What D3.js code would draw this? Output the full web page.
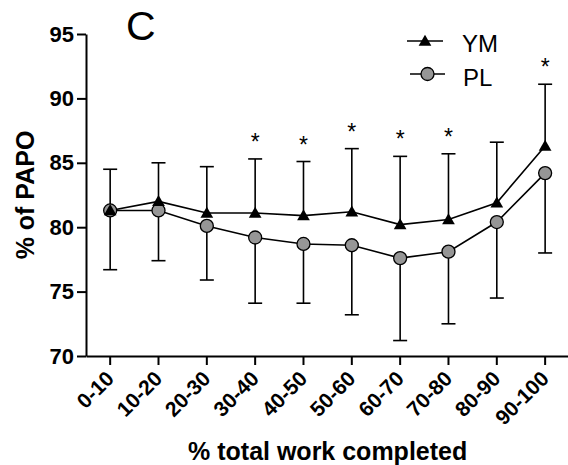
<!DOCTYPE html>
<html>
<head>
<meta charset="utf-8">
<script src="https://cdn.jsdelivr.net/npm/d3@7"></script>
<style>
  html, body { margin: 0; padding: 0; background: #fff; }
  svg { display: block; font-family: "Liberation Sans", Arial, Helvetica, sans-serif; }
</style>
</head>
<body>
<svg id="chart" width="568" height="465"></svg>
<script>
// Work intervals (% of total work completed)
const categories = ["0-10", "10-20", "20-30", "30-40", "40-50", "50-60", "60-70", "70-80", "80-90", "90-100"];
// Mean power output, % of PAPO
const ymMean = [81.3, 82.0, 81.1, 81.1, 80.9, 81.2, 80.2, 80.6, 81.9, 86.3];
const ymSD   = [3.2, 3.0, 3.6, 4.2, 4.2, 4.9, 5.3, 5.1, 4.7, 4.8];
const plMean = [81.3, 81.3, 80.1, 79.2, 78.7, 78.6, 77.6, 78.1, 80.4, 84.2];
const plSD   = [4.6, 3.9, 4.2, 5.1, 4.6, 5.4, 6.4, 5.6, 5.9, 6.2];
// Significant YM vs PL difference
const significant = [false, false, false, true, true, true, true, true, false, true];
const yTicks = [70, 75, 80, 85, 90, 95];

const svg = d3.select("#chart");
const plotLeft = 86, plotRight = 569.3, plotTop = 34, plotBottom = 356;

const x = d3.scaleBand().domain(categories).range([plotLeft, plotRight]).paddingInner(0).paddingOuter(0);
const cx = c => x(c) + x.bandwidth() / 2;
const y = d3.scaleLinear().domain([70, 95]).range([plotBottom, plotTop]);

// Y axis
const yAxis = svg.append("g")
  .attr("transform", `translate(${plotLeft},0)`)
  .call(d3.axisLeft(y).tickValues(yTicks).tickSize(9).tickPadding(3).tickSizeOuter(0));
yAxis.select(".domain").attr("stroke", "#000").attr("stroke-width", 2);
yAxis.selectAll(".tick line").attr("stroke", "#000").attr("stroke-width", 2);
yAxis.selectAll(".tick text")
  .attr("font-size", 22).attr("font-weight", "bold").attr("fill", "#000")
  .attr("font-family", "'Liberation Sans', Arial, sans-serif");

// X axis
const xAxis = svg.append("g")
  .attr("transform", `translate(0,${plotBottom})`)
  .call(d3.axisBottom(x).tickSize(9).tickSizeOuter(0).tickFormat(() => ""));
xAxis.select(".domain").attr("stroke", "#000").attr("stroke-width", 2);
xAxis.selectAll(".tick line").attr("stroke", "#000").attr("stroke-width", 2);

// Rotated category labels
svg.append("g").selectAll("text")
  .data(categories)
  .join("text")
  .attr("transform", d => `translate(${cx(d) + 5},${plotBottom + 24}) rotate(-45)`)
  .attr("text-anchor", "end")
  .attr("font-size", 21)
  .attr("font-weight", "bold")
  .attr("fill", "#000")
  .text(d => d);

// Axis titles
svg.append("text")
  .attr("x", (plotLeft + plotRight) / 2)
  .attr("y", 460)
  .attr("text-anchor", "middle")
  .attr("font-size", 25)
  .attr("font-weight", "bold")
  .text("% total work completed");

svg.append("text")
  .attr("transform", `translate(34,${(plotTop + plotBottom) / 2}) rotate(-90)`)
  .attr("text-anchor", "middle")
  .attr("font-size", 25)
  .attr("font-weight", "bold")
  .text("% of PAPO");

// Panel letter
svg.append("text")
  .attr("x", 126)
  .attr("y", 40)
  .attr("font-size", 41)
  .text("C");

const capHalf = 7;

// PL error bars (downward)
const plErr = svg.append("g").attr("stroke", "#000").attr("stroke-width", 1.6).attr("fill", "none");
categories.forEach((c, i) => {
  const xv = cx(c), y0 = y(plMean[i]), y1 = y(plMean[i] - plSD[i]);
  plErr.append("line").attr("x1", xv).attr("x2", xv).attr("y1", y0).attr("y2", y1);
  plErr.append("line").attr("x1", xv - capHalf).attr("x2", xv + capHalf).attr("y1", y1).attr("y2", y1);
});

// YM error bars (upward)
const ymErr = svg.append("g").attr("stroke", "#000").attr("stroke-width", 1.6).attr("fill", "none");
categories.forEach((c, i) => {
  const xv = cx(c), y0 = y(ymMean[i]), y1 = y(ymMean[i] + ymSD[i]);
  ymErr.append("line").attr("x1", xv).attr("x2", xv).attr("y1", y0).attr("y2", y1);
  ymErr.append("line").attr("x1", xv - capHalf).attr("x2", xv + capHalf).attr("y1", y1).attr("y2", y1);
});

// Connecting lines
const line = d3.line().x((d, i) => cx(categories[i])).y(d => y(d));
svg.append("path").datum(plMean).attr("d", line)
  .attr("fill", "none").attr("stroke", "#000").attr("stroke-width", 1.6);
svg.append("path").datum(ymMean).attr("d", line)
  .attr("fill", "none").attr("stroke", "#000").attr("stroke-width", 1.6);

// Markers
const triangle = d3.symbol().type(d3.symbolTriangle).size(70);
svg.append("g").selectAll("circle")
  .data(plMean)
  .join("circle")
  .attr("cx", (d, i) => cx(categories[i]))
  .attr("cy", d => y(d))
  .attr("r", 6.5)
  .attr("fill", "#969696")
  .attr("stroke", "#000")
  .attr("stroke-width", 1.3);

svg.append("g").selectAll("path")
  .data(ymMean)
  .join("path")
  .attr("d", triangle)
  .attr("transform", (d, i) => `translate(${cx(categories[i])},${y(d) + 1})`)
  .attr("fill", "#000");

// Significance markers above YM error bars
svg.append("g").selectAll("text")
  .data(categories.filter((c, i) => significant[i]))
  .join("text")
  .attr("x", c => cx(c))
  .attr("y", c => {
    const i = categories.indexOf(c);
    return y(ymMean[i] + ymSD[i]) - 9;
  })
  .attr("text-anchor", "middle")
  .attr("font-size", 23)
  .text("*");

// Legend
const legend = svg.append("g");
legend.append("line").attr("x1", 407).attr("x2", 443).attr("y1", 41).attr("y2", 41)
  .attr("stroke", "#000").attr("stroke-width", 1.6);
legend.append("path").attr("d", triangle).attr("transform", "translate(425,42)").attr("fill", "#000");
legend.append("text").attr("x", 462).attr("y", 51.5).attr("font-size", 24).text("YM");

legend.append("line").attr("x1", 410).attr("x2", 445).attr("y1", 74).attr("y2", 74)
  .attr("stroke", "#000").attr("stroke-width", 1.6);
legend.append("circle").attr("cx", 427.5).attr("cy", 74).attr("r", 6.5)
  .attr("fill", "#969696").attr("stroke", "#000").attr("stroke-width", 1.3);
legend.append("text").attr("x", 463).attr("y", 85.5).attr("font-size", 24).text("PL");
</script>
</body>
</html>
